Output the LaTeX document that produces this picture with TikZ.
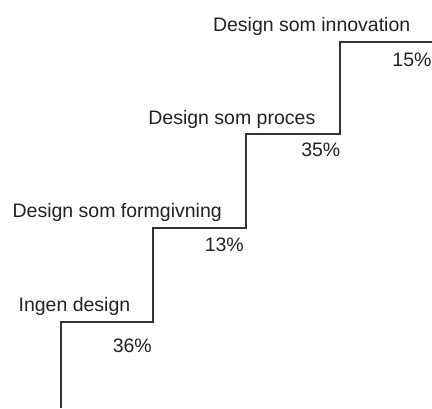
\documentclass[tikz,border=0pt]{standalone}
\usepackage{fontspec}
\setmainfont{Liberation Sans}
\definecolor{stairc}{HTML}{333333}
\definecolor{txtc}{HTML}{222222}
\tikzset{
  stair/.style={draw=stairc, line width=1.5pt, line join=miter},
  lbl/.style={anchor=base east, inner sep=0pt, text=txtc, font=\fontsize{19.5}{23}\selectfont},
}
\begin{document}
\begin{tikzpicture}[x=1pt, y=-1pt]
\useasboundingbox (0,0) rectangle (432,408);
\coordinate (s0) at (61,408);
\coordinate (s1) at (61,322);
\coordinate (s2) at (153,322);
\coordinate (s3) at (153,228);
\coordinate (s4) at (246,228);
\coordinate (s5) at (246,134);
\coordinate (s6) at (340,134);
\coordinate (s7) at (340,42);
\coordinate (s8) at (433,42);
\draw[stair] (s0) -- (s1) -- (s2) -- (s3) -- (s4) -- (s5) -- (s6) -- (s7) -- (s8);
\node[lbl] (l1) at (130.5,311.7) {Ingen design};
\node[lbl] (p1) at (152,352.7) {36\%};
\node[lbl] (l2) at (222,217.7) {Design som formgivning};
\node[lbl] (p2) at (244,251) {13\%};
\node[lbl] (l3) at (315.5,124) {Design som proces};
\node[lbl] (p3) at (340.5,156.7) {35\%};
\node[lbl] (l4) at (410.5,31) {Design som innovation};
\node[lbl] (p4) at (431.7,66) {15\%};
\end{tikzpicture}
\end{document}
